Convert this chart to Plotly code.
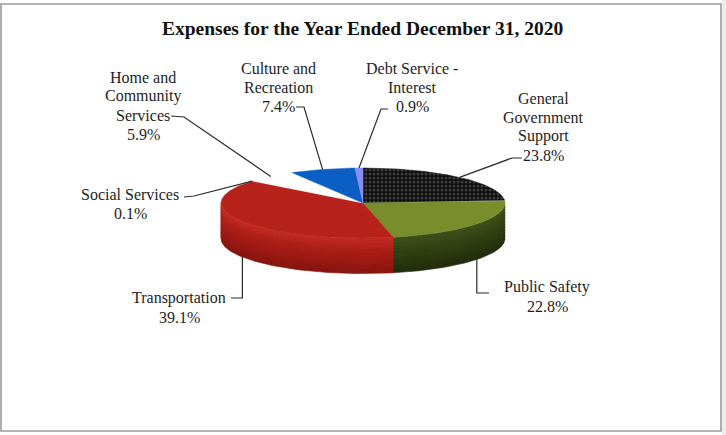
import numpy as np
import plotly.graph_objects as go

# ---- data -------------------------------------------------------------
categories = [
    "General Government Support",
    "Public Safety",
    "Transportation",
    "Social Services",
    "Home and Community Services",
    "Culture and Recreation",
    "Debt Service - Interest",
]
percent = [23.8, 22.8, 39.1, 0.1, 5.9, 7.4, 0.9]
label_lines = [
    ["General", "Government", "Support"],
    ["Public Safety"],
    ["Transportation"],
    ["Social Services"],
    ["Home and", "Community", "Services"],
    ["Culture and", "Recreation"],
    ["Debt Service -", "Interest"],
]
title_text = "Expenses for the Year Ended December 31, 2020"

# ---- styling ----------------------------------------------------------
top_colors = ["#0c0c0c", "#7a8d2d", "#b7221a", "#b7221a", "#ffffff", "#0b5fc4", "#8b8cf0"]
side_shades = [
    None,
    ["#3e4f19", "#344314", "#2c3910", "#232d0c"],
    ["#c22b21", "#ab1e17", "#9d1a13", "#88150f"],
    ["#c22b21", "#ab1e17", "#9d1a13", "#88150f"],
    None,
    None,
    None,
]

# label block: centre x and y of first line
label_pos = [(543, 98), (547, 287), (179, 298), (130, 194), (143, 77), (278, 68), (412, 68)]
LINE_STEP = 19.2
# leader-line stub start and elbow
leader_stub = [
    [(522, 158), (512, 158)],
    [(489, 293), (None, 293)],
    [(231, 298), (None, 298)],
    [(184, 197), (194, 196)],
    [(171, 116), (184, 117)],
    [(296, 107), (304, 107)],
    [(388, 109), (381, 109)],
]

W, H = 726, 435
CX, CY, RX, RY, DEPTH = 363, 203, 142, 35, 35


def ell(theta_deg, dy=0.0):
    t = np.radians(theta_deg)
    return CX + RX * np.sin(t), CY - RY * np.cos(t) + dy


def mix(c1, c2, f):
    a = [int(c1[i:i + 2], 16) for i in (1, 3, 5)]
    b = [int(c2[i:i + 2], 16) for i in (1, 3, 5)]
    return "#%02x%02x%02x" % tuple(int(round(a[k] + (b[k] - a[k]) * f)) for k in range(3))


fig = go.Figure()

total = sum(percent)
bounds = np.cumsum([0] + percent) / total * 360.0

# side walls of the front half (90..270 degrees)
for i, shades in enumerate(side_shades):
    if shades is None:
        continue
    a0, a1 = max(bounds[i], 90.0), min(bounds[i + 1], 270.0)
    if a1 <= a0:
        continue
    th = np.linspace(a0, a1, 120)
    n = 12
    for k in range(n):
        d0, d1 = DEPTH * k / n, DEPTH * (k + 1) / n
        f = k / (n - 1)
        seg = f * (len(shades) - 1)
        j = min(int(seg), len(shades) - 2)
        col = mix(shades[j], shades[j + 1], seg - j)
        xs0, ys0 = ell(th, d0)
        xs1, ys1 = ell(th[::-1], d1 + 0.6)
        fig.add_trace(go.Scatter(
            x=np.concatenate([xs0, xs1]), y=np.concatenate([ys0, ys1]),
            mode="lines", fill="toself", fillcolor=col,
            line=dict(color=col, width=0.6), hoverinfo="skip", showlegend=False))

# top faces
for i, name in enumerate(categories):
    th = np.linspace(bounds[i], bounds[i + 1], max(int((bounds[i + 1] - bounds[i]) * 2), 3))
    xs, ys = ell(th)
    x = np.concatenate([[CX], xs, [CX]])
    y = np.concatenate([[CY], ys, [CY]])
    kw = {}
    if i == 0:
        kw["fillpattern"] = dict(shape=".", bgcolor="#0c0c0c", fgcolor="#6e6e6e",
                                 size=4, solidity=0.45)
    fig.add_trace(go.Scatter(
        x=x, y=y, mode="lines", fill="toself", fillcolor=top_colors[i],
        line=dict(color=top_colors[i], width=0.5), name=name,
        hovertemplate=f"{name}: {percent[i]:.1f}%<extra></extra>", showlegend=False, **kw))

# leader lines and labels
annotations = []
for i, name in enumerate(categories):
    mid = (bounds[i] + bounds[i + 1]) / 2
    front = 90 < mid < 270
    px, py = ell(mid, DEPTH if front else 0)
    (sx, sy), (ex, ey) = leader_stub[i]
    if ex is None:
        ex = px
    fig.add_trace(go.Scatter(
        x=[sx, ex, px], y=[sy, ey, py], mode="lines",
        line=dict(color="#2a2a2a", width=1.2), hoverinfo="skip", showlegend=False))
    lx, ly = label_pos[i]
    for k, line in enumerate(label_lines[i] + [f"{percent[i]:.1f}%"]):
        annotations.append(dict(
            x=lx, y=ly + k * LINE_STEP, xref="x", yref="y", showarrow=False,
            text=line,
            font=dict(family="Liberation Serif", size=16, color="#1e1e1e"),
            xanchor="center", yanchor="middle"))

annotations.append(dict(
    x=362, y=28, xref="x", yref="y", showarrow=False,
    text=f"<b>{title_text}</b>",
    font=dict(family="Liberation Serif", size=19.5, color="#111111"),
    xanchor="center", yanchor="middle"))

fig.update_layout(
    width=W, height=H,
    margin=dict(l=0, r=0, t=0, b=0),
    paper_bgcolor="white", plot_bgcolor="white",
    xaxis=dict(range=[0, W], visible=False, fixedrange=True),
    yaxis=dict(range=[H, 0], visible=False, fixedrange=True),
    annotations=annotations,
    shapes=[
        dict(type="rect", xref="x", yref="y", x0=1, y0=4, x1=721, y1=431,
             line=dict(color="#9a9a9a", width=1.6)),
        dict(type="rect", xref="x", yref="y", x0=722, y0=0, x1=726, y1=435,
             line=dict(width=0), fillcolor="#ececec"),
    ],
)

fig.write_html("out.html")
